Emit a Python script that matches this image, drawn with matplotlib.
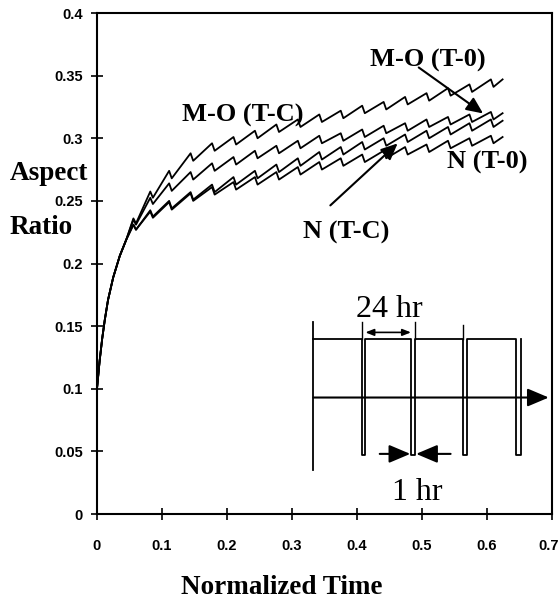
import matplotlib
matplotlib.use('Agg')
import matplotlib.pyplot as plt
import matplotlib.transforms as mtransforms

# shared early rise (all four curves start together)
t_start = [0.0, 0.004, 0.008, 0.012, 0.017, 0.025, 0.035, 0.045]
y_start = [0.100, 0.122, 0.140, 0.155, 0.171, 0.189, 0.206, 0.219]

# times of the daily rest periods (teeth)
t_cyc = [0.056, 0.082, 0.111, 0.144, 0.177, 0.210, 0.243, 0.276, 0.309,
         0.342, 0.375, 0.408, 0.441, 0.474, 0.507, 0.540, 0.573, 0.606]
t_end = 0.624

# mid-line value of each curve at each tooth, and at t_end
mo_tc = [0.234, 0.255, 0.271, 0.285, 0.293, 0.298, 0.303, 0.308, 0.312,
         0.316, 0.319, 0.323, 0.326, 0.330, 0.333, 0.337, 0.340, 0.344, 0.347]
mo_t0 = [0.233, 0.250, 0.261, 0.270, 0.277, 0.282, 0.287, 0.291, 0.295,
         0.299, 0.301, 0.304, 0.307, 0.309, 0.312, 0.314, 0.316, 0.318, 0.320]
n_tc = [0.229, 0.240, 0.247, 0.254, 0.260, 0.266, 0.271, 0.276, 0.281,
        0.286, 0.290, 0.294, 0.297, 0.300, 0.303, 0.306, 0.309, 0.312, 0.314]
n_t0 = [0.229, 0.239, 0.246, 0.253, 0.258, 0.262, 0.266, 0.270, 0.274,
        0.278, 0.281, 0.284, 0.287, 0.290, 0.292, 0.295, 0.297, 0.299, 0.301]
# size of the drop at each tooth
spike = [0.004, 0.005, 0.006, 0.006, 0.006, 0.006, 0.006, 0.006, 0.006,
         0.006, 0.006, 0.006, 0.006, 0.006, 0.006, 0.006, 0.006, 0.006]

# inset schematic (24 hr cycles with 1 hr rests)
pulse_left = [0.407, 0.483, 0.563, 0.644]
pulse_right = [0.413, 0.490, 0.570, 0.652]
sched_x0 = 0.333
sched_top = 0.140
sched_low = 0.047


def saw(vals):
    xs = list(t_start)
    ys = list(y_start)
    for t, b, s in zip(t_cyc, vals, spike):
        xs += [t, t + 0.004]
        ys += [b + s / 2, b - s / 2]
    xs.append(t_end)
    ys.append(vals[-1])
    return xs, ys


fig = plt.figure(figsize=(5.6, 6.05), dpi=100)
ax = fig.add_axes([0.1732, 0.1504, 0.8125, 0.8281])

for vals in [mo_tc, mo_t0, n_tc, n_t0]:
    xs, ys = saw(vals)
    ax.plot(xs, ys, color='black', lw=1.3)

ax.set_xlim(0, 0.7)
ax.set_ylim(0, 0.4)
ax.set_xticks([0, 0.1, 0.2, 0.3, 0.4, 0.5, 0.6, 0.7])
ax.set_xticklabels(['0', '0.1', '0.2', '0.3', '0.4', '0.5', '0.6', '0.7'])
ax.set_yticks([0, 0.05, 0.1, 0.15, 0.2, 0.25, 0.3, 0.35, 0.4])
ax.set_yticklabels(['0', '0.05', '0.1', '0.15', '0.2', '0.25', '0.3', '0.35', '0.4'])
for lab in ax.get_xticklabels() + ax.get_yticklabels():
    lab.set_fontfamily(['Liberation Sans', 'DejaVu Sans'])
    lab.set_fontweight('bold')
    lab.set_fontsize(10.5)
ax.tick_params(direction='inout', length=8, width=1.2)
ax.tick_params(axis='x', pad=14)
ax.tick_params(axis='y', pad=6)
for sp in ax.spines.values():
    sp.set_linewidth(1.5)

# keep the last x label inside the figure edge
last = ax.get_xticklabels()[-1]
last.set_horizontalalignment('right')
last.set_transform(last.get_transform() +
                   mtransforms.ScaledTranslation(7 / 100, 0, fig.dpi_scale_trans))

serif = ['Liberation Serif', 'DejaVu Serif']
fig.text(10 / 560, 1 - 173 / 605, 'Aspect', ha='left', va='center',
         family=serif, weight='bold', fontsize=19.5)
fig.text(10 / 560, 1 - 228 / 605, 'Ratio', ha='left', va='center',
         family=serif, weight='bold', fontsize=19.5)
fig.text(282 / 560, 1 - 587 / 605, 'Normalized Time', ha='center', va='center',
         family=serif, weight='bold', fontsize=19.5)

# curve labels and arrows
lab = dict(family=serif, weight='bold', fontsize=19, ha='center', va='center')
ax.text(0.509, 0.362, 'M-O (T-0)', **lab)
ax.text(0.225, 0.318, 'M-O (T-C)', **lab)
ax.text(0.600, 0.281, 'N (T-0)', **lab)
ax.text(0.384, 0.225, 'N (T-C)', **lab)
arw = dict(arrowstyle='-|>,head_length=1.0,head_width=0.45', color='black', lw=1.5,
           shrinkA=0, shrinkB=0)
ax.annotate('', xy=(0.594, 0.3198), xytext=(0.495, 0.3565), arrowprops=arw)
ax.annotate('', xy=(0.4625, 0.2959), xytext=(0.359, 0.2464), arrowprops=arw)

# inset schematic
px = [sched_x0]
py = [sched_top]
for a, b in zip(pulse_left, pulse_right):
    px += [a, a, b, b]
    py += [sched_top, sched_low, sched_low, sched_top]
ax.plot(px, py, color='black', lw=1.3)
ax.plot([sched_x0, sched_x0], [0.035, 0.153], color='black', lw=1.3)
ax.plot([pulse_left[0], pulse_left[0]], [sched_top, 0.153], color='black', lw=1.0)
ax.plot([pulse_right[1], pulse_right[1]], [sched_top, 0.153], color='black', lw=1.0)
ax.plot([pulse_left[2], pulse_left[2]], [sched_top, 0.151], color='black', lw=1.0)

big = dict(arrowstyle='-|>,head_length=1.3,head_width=0.55', color='black', lw=1.5,
           shrinkA=0, shrinkB=0)
ax.annotate('', xy=(0.695, 0.093), xytext=(sched_x0, 0.093), arrowprops=big)
small = dict(arrowstyle='<|-|>,head_length=0.5,head_width=0.2', color='black', lw=1.2,
             shrinkA=0, shrinkB=0)
ax.annotate('', xy=(pulse_left[1], 0.145), xytext=(pulse_right[0], 0.145), arrowprops=small)
ax.annotate('', xy=(pulse_left[1] - 0.001, 0.048), xytext=(0.435, 0.048), arrowprops=big)
ax.annotate('', xy=(pulse_right[1] + 0.001, 0.048), xytext=(0.544, 0.048), arrowprops=big)
ax.text(0.449, 0.163, '24 hr', family=serif, fontsize=23, ha='center', va='center')
ax.text(0.492, 0.017, '1 hr', family=serif, fontsize=23, ha='center', va='center')

fig.savefig('out.png', dpi=100)
